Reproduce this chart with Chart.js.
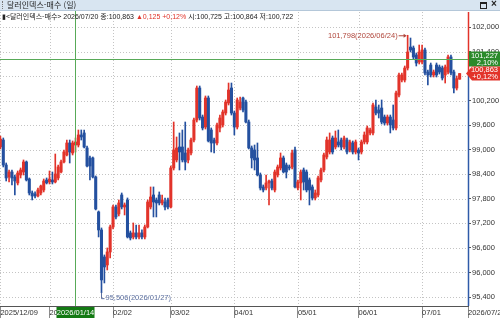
<!DOCTYPE html>
<html lang="ko">
<head>
<meta charset="utf-8">
<title>달러인덱스-매수 (일)</title>
<script src="https://cdn.jsdelivr.net/npm/chart.js@4.4.1/dist/chart.umd.min.js"></script>
<style>
  html, body { margin: 0; padding: 0; background: #fff; }
  #wrap {
    position: relative; width: 500px; height: 318px; overflow: hidden;
    font-family: "Liberation Sans", Arial, sans-serif;
  }
  #chart { position: absolute; left: 0; top: 0; }
  #titlebar {
    position: absolute; left: 0; top: 0; width: 500px; height: 10px;
    background: #d8e5f1; border-bottom: 1px solid #b4c7d9;
    font-size: 8px; line-height: 10px; color: #1e1e1e;
  }
  #titlebar .grip { position: absolute; left: 2px; top: 1px; width: 1px; height: 8px; border-left: 1px dotted #777; }
  #titlebar .name { position: absolute; left: 7px; top: 0; font-family: "Noto Sans CJK KR", sans-serif; }
  #titlebar .max { position: absolute; left: 480px; top: 2px; width: 5px; height: 4px; border: 1px solid #222; border-top-width: 2px; }
  #titlebar .close { position: absolute; left: 491px; top: -1px; font-size: 10px; font-weight: bold; }
  #info {
    position: absolute; left: 2px; top: 11px; height: 10px;
    font-size: 7px; line-height: 10px; color: #222; white-space: nowrap;
  }
  #info .kr { font-family: "Noto Sans CJK KR", sans-serif; font-size: 7px; }
  #info .up { color: #e0342a; }
</style>
</head>
<body>
<div id="wrap">
  <canvas id="chart" width="500" height="318"></canvas>
  <div id="titlebar"><span class="grip"></span><span class="name">달러인덱스-매수 (일)</span><span class="max"></span><span class="close">×</span></div>
  <div id="info"></div>
</div>
<script>
// daily candles, 2025/12/09 .. 2026/07/20 (160 trading days)
const opens = [
  99.067, 99.238, 98.627, 98.334, 98.456, 98.334, 98.188, 98.383, 98.456, 98.701,
  98.285, 97.943, 97.919, 97.870, 97.943, 98.016, 98.261, 98.212, 98.261, 98.212,
  98.310, 98.456, 98.701, 98.872, 99.165, 98.921, 99.116, 99.116, 99.361, 99.410,
  99.043, 98.799, 98.799, 98.334, 97.479, 97.039, 96.379, 96.183, 96.501, 97.112,
  97.601, 97.430, 97.894, 97.601, 97.772, 96.966, 96.868, 96.966, 96.868, 96.966,
  96.868, 97.112, 97.601, 97.894, 97.772, 97.894, 97.699, 97.723, 97.772, 97.601,
  98.554, 98.750, 99.067, 99.067, 98.921, 98.750, 98.921, 99.238, 99.727, 100.509,
  99.800, 99.556, 100.265, 99.483, 99.238, 99.165, 99.532, 99.605, 99.898, 100.143,
  100.509, 99.898, 99.556, 100.020, 100.265, 100.167, 99.678, 99.043, 98.994, 98.799,
  98.383, 98.090, 98.065, 98.188, 98.236, 98.016, 98.383, 98.554, 98.799, 98.627,
  98.579, 98.579, 98.994, 98.065, 98.188, 98.505, 98.456, 98.261, 98.090, 97.821,
  97.894, 98.261, 98.505, 98.823, 98.945, 99.287, 99.067, 99.190, 99.238, 99.067,
  99.238, 98.994, 99.165, 98.945, 98.994, 98.945, 99.190, 99.190, 99.410, 99.410,
  100.045, 99.972, 100.020, 99.800, 99.654, 99.800, 99.727, 99.532, 100.338, 100.705,
  100.705, 100.998, 101.511, 101.487, 101.316, 101.145, 101.145, 101.438, 100.900, 101.071,
  100.827, 101.071, 101.023, 100.998, 100.827, 100.900, 101.267, 100.900, 100.509, 100.725
];
const highs = [
  99.336, 99.287, 98.676, 98.505, 98.505, 98.383, 98.481, 98.554, 98.750, 98.725,
  98.310, 97.992, 97.968, 98.065, 98.139, 98.285, 98.310, 98.481, 98.456, 98.896,
  98.627, 98.750, 98.994, 99.238, 99.238, 99.214, 99.287, 99.483, 99.483, 99.483,
  99.092, 98.847, 98.823, 98.359, 97.503, 97.088, 96.428, 96.599, 97.161, 97.650,
  97.650, 97.772, 97.943, 97.699, 97.821, 97.014, 97.210, 97.161, 97.161, 97.039,
  97.161, 97.772, 98.090, 98.090, 97.821, 97.968, 97.894, 97.821, 97.821, 98.603,
  99.678, 99.312, 99.410, 99.483, 99.678, 99.043, 99.287, 99.776, 100.558, 100.558,
  99.849, 100.314, 100.314, 99.532, 99.287, 99.654, 99.849, 99.972, 100.216, 100.631,
  100.631, 99.947, 100.265, 100.289, 100.289, 100.216, 99.727, 99.092, 99.116, 99.165,
  98.432, 98.139, 98.383, 98.261, 98.285, 98.505, 98.627, 98.921, 98.847, 98.676,
  98.627, 98.994, 99.067, 98.261, 98.505, 98.554, 98.505, 98.310, 98.139, 98.016,
  98.359, 98.554, 98.921, 99.312, 99.410, 99.336, 99.458, 99.483, 99.287, 99.336,
  99.287, 99.238, 99.214, 99.238, 99.043, 99.238, 99.434, 99.581, 99.532, 100.143,
  100.216, 100.094, 100.216, 99.849, 99.849, 99.849, 100.094, 100.436, 100.876, 100.876,
  101.047, 101.798, 101.731, 101.536, 101.365, 101.560, 101.560, 101.487, 100.949, 101.120,
  100.949, 101.120, 101.071, 101.047, 101.071, 101.316, 101.316, 100.949, 100.803, 100.864
];
const lows = [
  99.018, 98.579, 98.236, 98.212, 98.139, 97.894, 98.139, 98.310, 98.383, 98.236,
  97.894, 97.772, 97.821, 97.845, 97.894, 97.968, 98.163, 98.163, 98.163, 98.188,
  98.261, 98.432, 98.676, 98.847, 98.676, 98.872, 98.945, 99.067, 99.238, 99.043,
  98.579, 98.261, 98.310, 97.528, 96.868, 95.506, 95.743, 96.061, 96.354, 97.063,
  97.308, 97.381, 97.552, 97.405, 96.843, 96.794, 96.819, 96.819, 96.819, 96.819,
  96.819, 97.088, 97.552, 97.357, 97.357, 97.650, 97.650, 97.528, 97.552, 97.576,
  98.505, 98.701, 98.505, 98.701, 98.505, 98.676, 98.872, 99.190, 99.678, 99.727,
  99.483, 99.507, 99.190, 98.945, 98.921, 99.116, 99.434, 99.556, 99.849, 100.094,
  99.849, 99.361, 99.507, 99.972, 99.923, 99.654, 99.018, 98.554, 98.505, 98.359,
  98.016, 97.968, 98.016, 97.650, 98.016, 97.968, 98.334, 98.505, 98.432, 98.310,
  98.505, 98.530, 98.065, 98.016, 97.772, 98.016, 97.968, 97.650, 97.772, 97.772,
  97.845, 98.212, 98.456, 98.774, 98.896, 98.896, 99.018, 99.067, 98.994, 99.018,
  98.896, 98.945, 98.896, 98.896, 98.750, 98.896, 99.141, 99.141, 99.361, 99.361,
  99.849, 99.776, 99.629, 99.605, 99.605, 99.410, 99.483, 99.483, 100.289, 100.656,
  100.656, 100.949, 101.389, 101.218, 101.047, 101.096, 101.096, 100.827, 100.583, 100.778,
  100.778, 100.778, 100.851, 100.705, 100.631, 100.851, 100.827, 100.387, 100.460, 100.722
];
const closes = [
  99.263, 98.627, 98.310, 98.456, 98.310, 98.236, 98.432, 98.505, 98.701, 98.261,
  97.943, 97.870, 97.870, 98.016, 98.114, 98.236, 98.188, 98.285, 98.212, 98.407,
  98.579, 98.701, 98.945, 99.165, 98.945, 99.165, 99.190, 99.361, 99.312, 99.067,
  98.603, 98.603, 98.334, 97.552, 97.039, 95.817, 96.134, 96.501, 97.112, 97.601,
  97.357, 97.699, 97.601, 97.650, 96.868, 96.843, 96.966, 96.868, 96.966, 96.868,
  97.112, 97.723, 97.845, 97.723, 97.699, 97.699, 97.772, 97.601, 97.601, 98.554,
  98.994, 99.043, 98.945, 98.750, 98.701, 98.994, 99.238, 99.727, 100.509, 99.776,
  99.532, 100.265, 99.214, 99.165, 99.165, 99.605, 99.776, 99.923, 100.167, 100.460,
  99.898, 99.556, 100.216, 100.167, 99.972, 99.678, 99.043, 98.799, 98.750, 98.383,
  98.065, 98.016, 98.188, 98.236, 98.065, 98.456, 98.579, 98.799, 98.456, 98.456,
  98.554, 98.921, 98.090, 98.212, 98.456, 98.212, 98.016, 98.016, 97.821, 97.943,
  98.310, 98.505, 98.872, 99.238, 99.238, 98.945, 99.287, 99.116, 99.067, 99.287,
  98.945, 99.190, 98.945, 99.190, 98.921, 99.190, 99.361, 99.532, 99.483, 100.094,
  99.898, 99.898, 99.678, 99.654, 99.800, 99.605, 99.532, 100.387, 100.827, 100.827,
  100.998, 101.389, 101.438, 101.267, 101.120, 101.389, 101.438, 100.876, 100.827, 100.827,
  100.900, 100.827, 100.900, 100.754, 101.023, 101.267, 100.876, 100.509, 100.738, 100.863
];

// x axis: trading-day index of each labelled date
const xTickIndex = [0, 17, 39, 59, 81, 103, 124, 146];
const xTickLabels = ['2025/12/09', '2026/01/02', '02/02', '03/02', '04/01', '05/01', '06/01', '07/01'];
const lastDate = '2026/07/20';
const yTicks = [95.4, 96.0, 96.6, 97.2, 97.8, 98.4, 99.0, 99.6, 100.2, 100.8, 101.4, 102.0];

// crosshair + marks
const crossIndex = 26, crossDate = '2026/01/14', crossPrice = 101.227, crossPct = '2,10%';
const hiIndex = 141, hiDate = '2026/06/24';
const loIndex = 35, loDate = '2026/01/27';

const RED = '#e2332a', BLUE = '#24509f';
const FONT = '"Liberation Sans", Arial, sans-serif';
const fmt = (v, d) => v.toFixed(d).replace('.', ',');

// header line
const last = closes.length - 1;
const chg = closes[last] - closes[last - 1];
document.getElementById('info').innerHTML =
  '▮<span class="kr">&lt;달러인덱스-매수&gt;</span> ' + lastDate +
  ' <span class="kr">종</span>:' + fmt(closes[last], 3) +
  ' <span class="up">▲' + fmt(chg, 3) + ' +' + fmt(chg / closes[last - 1] * 100, 2) + '%</span>' +
  ' <span class="kr">시</span>:' + fmt(opens[last], 3) +
  ' <span class="kr">고</span>:' + fmt(highs[last], 3) +
  ' <span class="kr">저</span>:' + fmt(lows[last], 3);

const colors = closes.map((c, i) => c >= opens[i] ? RED : BLUE);

// dotted grid behind the candles
const dottedGrid = {
    id: 'dottedGrid',
    beforeDatasetsDraw(chart) {
        const { ctx, chartArea: a, scales: { x, y } } = chart;
        ctx.save();
        ctx.strokeStyle = '#c4c4c4';
        ctx.lineWidth = 1;
        ctx.setLineDash([1, 2]);
        ctx.beginPath();
        y.ticks.forEach(t => {
            const py = Math.round(y.getPixelForValue(t.value)) + 0.5;
            ctx.moveTo(a.left, py); ctx.lineTo(a.right, py);
        });
        x.ticks.forEach(t => {
            const px = Math.round(x.getPixelForValue(t.value)) + 0.5;
            ctx.moveTo(px, a.top); ctx.lineTo(px, a.bottom);
        });
        ctx.stroke();
        ctx.restore();
    }
};

const overlay = {
    id: 'overlay',
    afterDraw(chart) {
        const { ctx, chartArea: a, scales: { x, y } } = chart;
        const yNow = y.getPixelForValue(closes[last]);
        ctx.save();

        // price axis line: red above the last price, blue below
        ctx.lineWidth = 1.5;
        ctx.strokeStyle = RED;
        ctx.beginPath(); ctx.moveTo(a.right + 0.5, a.top); ctx.lineTo(a.right + 0.5, yNow); ctx.stroke();
        ctx.strokeStyle = '#2f5aa8';
        ctx.beginPath(); ctx.moveTo(a.right + 0.5, yNow); ctx.lineTo(a.right + 0.5, a.bottom); ctx.stroke();

        // crosshair
        const cx = Math.round(x.getPixelForValue(crossIndex)) + 0.5;
        const cy = Math.round(y.getPixelForValue(crossPrice)) + 0.5;
        ctx.lineWidth = 1;
        ctx.strokeStyle = '#58aa58';
        ctx.beginPath();
        ctx.moveTo(cx, a.top - 2); ctx.lineTo(cx, a.bottom);
        ctx.moveTo(a.left, cy); ctx.lineTo(a.right, cy);
        ctx.stroke();

        ctx.font = '7.5px ' + FONT;
        ctx.textBaseline = 'middle';

        // crosshair price box
        ctx.fillStyle = '#2b8a2b';
        ctx.fillRect(a.right + 1, cy - 8, 500 - a.right, 15);
        ctx.fillStyle = '#fff';
        ctx.textAlign = 'right';
        ctx.fillText(fmt(crossPrice, 3), 498, cy - 3.5);
        ctx.fillText(crossPct, 498, cy + 3.5);

        // last price box with arrow
        ctx.fillStyle = RED;
        ctx.beginPath();
        ctx.moveTo(a.right - 2, yNow);
        ctx.lineTo(a.right + 4, yNow - 7);
        ctx.lineTo(500, yNow - 7);
        ctx.lineTo(500, yNow + 7);
        ctx.lineTo(a.right + 4, yNow + 7);
        ctx.closePath();
        ctx.fill();
        ctx.fillStyle = '#fff';
        ctx.fillText(fmt(closes[last], 3), 498, yNow - 3.5);
        ctx.fillText('+' + fmt(chg / closes[last - 1] * 100, 2) + '%', 498, yNow + 3.5);

        // crosshair date box
        ctx.fillStyle = '#137a13';
        ctx.fillRect(cx - 19, a.bottom + 1, 38, 12);
        ctx.fillStyle = '#fff';
        ctx.textAlign = 'center';
        ctx.fillText(crossDate, cx, a.bottom + 7);

        // highest mark
        const hx = x.getPixelForValue(hiIndex), hy = y.getPixelForValue(highs[hiIndex]);
        ctx.strokeStyle = ctx.fillStyle = '#b0473c';
        ctx.textAlign = 'right';
        ctx.fillText(fmt(highs[hiIndex], 3) + '(' + hiDate + ')', hx - 10, hy + 0.5);
        ctx.beginPath(); ctx.moveTo(hx - 9, hy + 0.5); ctx.lineTo(hx - 2, hy + 0.5); ctx.stroke();
        ctx.beginPath(); ctx.moveTo(hx - 1, hy + 0.5); ctx.lineTo(hx - 4, hy - 1.5); ctx.lineTo(hx - 4, hy + 2.5); ctx.fill();

        // lowest mark
        const lx = Math.round(x.getPixelForValue(loIndex)) + 0.5, ly = y.getPixelForValue(lows[loIndex]);
        ctx.strokeStyle = ctx.fillStyle = '#5d70a0';
        ctx.beginPath(); ctx.moveTo(lx, ly); ctx.lineTo(lx, ly + 6); ctx.lineTo(lx + 3, ly + 6); ctx.stroke();
        ctx.textAlign = 'left';
        ctx.fillText(fmt(lows[loIndex], 3) + '(' + loDate + ')', lx + 4, ly + 5.5);

        ctx.restore();
    }
};

new Chart(document.getElementById('chart'), {
    type: 'bar',
    data: {
        datasets: [
            {
                label: 'wick',
                data: closes.map((c, i) => ({ x: i, y: [lows[i], highs[i]] })),
                backgroundColor: colors,
                barThickness: 1,
                grouped: false,
                order: 2
            },
            {
                label: 'body',
                data: closes.map((c, i) => ({ x: i, y: [opens[i], c] })),
                backgroundColor: colors,
                barThickness: 2.4,
                minBarLength: 1,
                grouped: false,
                order: 1
            }
        ]
    },
    options: {
        responsive: false,
        animation: false,
        layout: { padding: { top: 12, left: 0, right: 0, bottom: 0 } },
        plugins: { legend: { display: false }, tooltip: { enabled: false } },
        scales: {
            x: {
                type: 'linear',
                offset: false,
                min: -0.14,
                max: 161.9,
                afterBuildTicks: s => { s.ticks = xTickIndex.concat([161.9]).map(v => ({ value: v })); },
                afterFit: s => { s.height = 12; },
                ticks: {
                    autoSkip: false,
                    maxRotation: 0,
                    align: 'start',
                    padding: -10,
                    labelOffset: 0,
                    color: '#333',
                    font: { family: FONT, size: 7.5 },
                    callback: (v, i) => i < xTickLabels.length ? xTickLabels[i] : lastDate
                },
                grid: { offset: false, drawOnChartArea: false, tickColor: '#8c8c8c', tickLength: 12 },
                border: { color: '#555', width: 1 }
            },
            y: {
                position: 'right',
                min: 95.18,
                max: 102.367,
                afterBuildTicks: s => { s.ticks = yTicks.map(v => ({ value: v })); },
                afterFit: s => { s.width = 32; },
                ticks: {
                    padding: 1,
                    color: '#333',
                    font: { family: FONT, size: 7.5 },
                    callback: v => fmt(v, 3)
                },
                grid: { drawOnChartArea: false, tickColor: '#555', tickLength: 3 },
                border: { display: false }
            }
        }
    },
    plugins: [dottedGrid, overlay]
});
</script>
</body>
</html>
